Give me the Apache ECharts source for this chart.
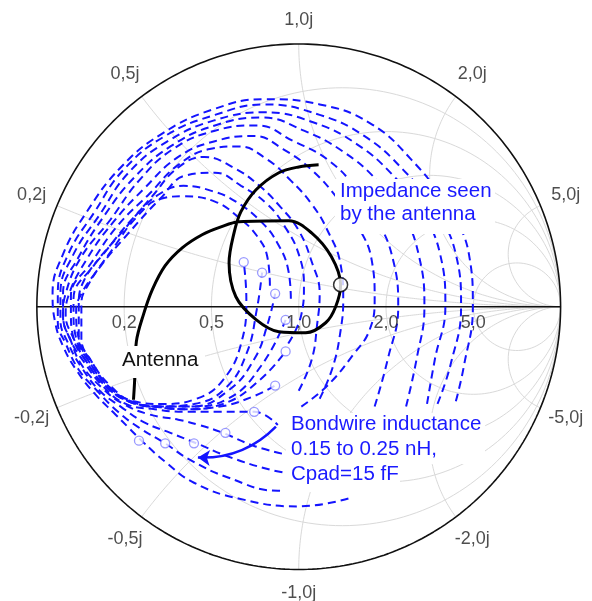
<!DOCTYPE html>
<html><head><meta charset="utf-8">
<script src="https://cdn.jsdelivr.net/npm/echarts@6/dist/echarts.min.js"></script>
<style>html,body{margin:0;padding:0;background:#fff}#c{width:592px;height:601px}</style>
</head><body><div id="c"></div>
<script>
// ---- Smith chart ticks ----
const resistanceTicks = [0.2, 0.5, 1, 2, 5];
const resistanceLabels = ['0,2', '0,5', '1,0', '2,0', '5,0'];
const reactanceTicks = [0.2, 0.5, 1, 2, 5, -0.2, -0.5, -1, -2, -5];
const reactanceLabels = ['0,2j', '0,5j', '1,0j', '2,0j', '5,0j', '-0,2j', '-0,5j', '-1,0j', '-2,0j', '-5,0j'];

// ---- Antenna impedance (reflection coefficient [re, im]) ----
const antenna = [[-0.631,-0.354],[-0.627,-0.289],[-0.620,-0.133],[-0.593,-0.030],[-0.559,0.065],[-0.510,0.156],[-0.445,0.224],[-0.369,0.274],[-0.297,0.304],[-0.228,0.323],[-0.038,0.327],[0.049,0.281],[0.125,0.190],[0.160,0.084],[0.141,0],[0.103,-0.061],[0.027,-0.099],[-0.076,-0.095],[-0.163,-0.049],[-0.240,0.038],[-0.266,0.167],[-0.247,0.281],[-0.221,0.361],[-0.163,0.445],[-0.076,0.510],[0,0.532],[0.076,0.540]];
const antennaMarker = [[0.160, 0.084]];

// ---- Impedance seen by the antenna, bondwire 0.15 ... 0.25 nH, Cpad = 15 fF ----
const seen01 = [[-0.11,0.08],[-0.12,0.19],[-0.16,0.27],[-0.23,0.34],[-0.32,0.40],[-0.44,0.42],[-0.53,0.41],[-0.62,0.34],[-0.71,0.22],[-0.80,0.09],[-0.83,0.01],[-0.83,-0.12],[-0.79,-0.21],[-0.72,-0.30],[-0.63,-0.36],[-0.52,-0.37],[-0.39,-0.35],[-0.29,-0.28],[-0.22,-0.14],[-0.20,0.03],[-0.21,0.17]];
const seen02 = [[-0.03,0.03],[-0.04,0.14],[-0.08,0.24],[-0.14,0.32],[-0.24,0.40],[-0.33,0.44],[-0.44,0.46],[-0.53,0.43],[-0.63,0.34],[-0.73,0.22],[-0.82,0.10],[-0.84,0.00],[-0.84,-0.12],[-0.79,-0.21],[-0.73,-0.30],[-0.64,-0.36],[-0.53,-0.38],[-0.40,-0.37],[-0.28,-0.31],[-0.20,-0.18],[-0.16,-0.01],[-0.14,0.13]];
const seen03 = [[-0.04,-0.14],[0.01,-0.03],[0.02,0.08],[0,0.20],[-0.05,0.30],[-0.12,0.39],[-0.22,0.46],[-0.32,0.51],[-0.43,0.50],[-0.53,0.41],[-0.65,0.28],[-0.76,0.15],[-0.84,0.03],[-0.85,-0.02],[-0.84,-0.12],[-0.80,-0.21],[-0.73,-0.30],[-0.64,-0.36],[-0.54,-0.38],[-0.41,-0.38],[-0.27,-0.32],[-0.17,-0.20],[-0.12,-0.07],[-0.09,0.05]];
const seen04 = [[0,-0.32],[0.05,-0.20],[0.07,-0.07],[0.08,0.05],[0.05,0.17],[0,0.29],[-0.07,0.38],[-0.15,0.46],[-0.25,0.53],[-0.36,0.57],[-0.46,0.53],[-0.56,0.42],[-0.67,0.29],[-0.78,0.16],[-0.86,0.03],[-0.86,-0.02],[-0.85,-0.12],[-0.80,-0.21],[-0.73,-0.30],[-0.65,-0.36],[-0.54,-0.38],[-0.42,-0.38],[-0.27,-0.35],[-0.14,-0.22],[-0.05,-0.05]];
const seen05 = [[0.08,-0.35],[0.13,-0.23],[0.16,-0.09],[0.17,0.03],[0.16,0.16],[0.11,0.29],[0.05,0.39],[-0.03,0.48],[-0.12,0.56],[-0.23,0.61],[-0.34,0.60],[-0.46,0.54],[-0.57,0.43],[-0.69,0.31],[-0.79,0.17],[-0.87,0.04],[-0.87,-0.02],[-0.86,-0.12],[-0.81,-0.21],[-0.74,-0.30],[-0.65,-0.36],[-0.55,-0.38],[-0.43,-0.39],[-0.29,-0.37],[-0.15,-0.28],[-0.05,-0.17]];
const seen06 = [[0.01,-0.38],[0.11,-0.30],[0.21,-0.18],[0.27,-0.09],[0.29,0.03],[0.28,0.17],[0.23,0.30],[0.15,0.41],[0.05,0.52],[-0.06,0.60],[-0.17,0.65],[-0.32,0.63],[-0.46,0.57],[-0.59,0.45],[-0.71,0.32],[-0.81,0.18],[-0.88,0.04],[-0.89,-0.03],[-0.86,-0.12],[-0.81,-0.21],[-0.74,-0.30],[-0.65,-0.36],[-0.55,-0.38],[-0.44,-0.39],[-0.30,-0.38],[-0.17,-0.34],[-0.09,-0.30]];
const seen07 = [[0.29,-0.38],[0.34,-0.20],[0.38,0],[0.36,0.18],[0.30,0.33],[0.22,0.45],[0.11,0.56],[-0.02,0.63],[-0.16,0.69],[-0.32,0.67],[-0.48,0.60],[-0.61,0.48],[-0.72,0.33],[-0.83,0.19],[-0.89,0.05],[-0.90,-0.03],[-0.87,-0.13],[-0.82,-0.21],[-0.75,-0.30],[-0.66,-0.37],[-0.55,-0.39],[-0.44,-0.40],[-0.32,-0.40],[-0.17,-0.40],[-0.08,-0.45]];
const seen08 = [[0.41,-0.38],[0.45,-0.20],[0.48,0],[0.46,0.19],[0.40,0.35],[0.30,0.48],[0.17,0.59],[0.02,0.67],[-0.14,0.72],[-0.32,0.69],[-0.49,0.61],[-0.63,0.49],[-0.74,0.35],[-0.84,0.19],[-0.90,0.05],[-0.90,-0.04],[-0.87,-0.13],[-0.83,-0.22],[-0.75,-0.31],[-0.67,-0.37],[-0.57,-0.41],[-0.46,-0.43],[-0.38,-0.45],[-0.29,-0.48],[-0.17,-0.53],[-0.06,-0.56]];
const seen09 = [[0.49,-0.37],[0.52,-0.20],[0.56,0],[0.54,0.20],[0.47,0.36],[0.36,0.50],[0.22,0.62],[0.06,0.70],[-0.13,0.74],[-0.32,0.71],[-0.50,0.63],[-0.65,0.51],[-0.76,0.35],[-0.86,0.20],[-0.91,0.05],[-0.91,-0.05],[-0.88,-0.14],[-0.83,-0.23],[-0.76,-0.32],[-0.68,-0.38],[-0.59,-0.44],[-0.49,-0.48],[-0.39,-0.52],[-0.27,-0.57],[-0.11,-0.62],[0,-0.64]];
const seen10 = [[0.53,-0.37],[0.58,-0.22],[0.62,0],[0.60,0.20],[0.52,0.37],[0.40,0.52],[0.25,0.65],[0.08,0.73],[-0.13,0.77],[-0.32,0.73],[-0.51,0.65],[-0.67,0.52],[-0.78,0.36],[-0.88,0.20],[-0.92,0.05],[-0.92,-0.06],[-0.89,-0.14],[-0.84,-0.24],[-0.77,-0.32],[-0.69,-0.40],[-0.61,-0.46],[-0.51,-0.52],[-0.42,-0.58],[-0.27,-0.65],[-0.08,-0.70],[0.08,-0.70]];
const seen11 = [[0.60,-0.36],[0.63,-0.23],[0.665,0],[0.65,0.20],[0.56,0.39],[0.43,0.56],[0.27,0.70],[0.08,0.77],[-0.13,0.79],[-0.33,0.75],[-0.52,0.66],[-0.68,0.53],[-0.81,0.36],[-0.90,0.20],[-0.94,0.05],[-0.93,-0.06],[-0.90,-0.15],[-0.85,-0.24],[-0.78,-0.33],[-0.70,-0.41],[-0.65,-0.46],[-0.60,-0.51],[-0.51,-0.59],[-0.40,-0.67],[-0.23,-0.73],[0,-0.76],[0.19,-0.73]];
const seenCurves = [seen01, seen02, seen03, seen04, seen05, seen06, seen07, seen08, seen09, seen10, seen11];
const seenMarkers = [[-0.21,0.17],[-0.14,0.13],[-0.09,0.05],[-0.05,-0.05],[-0.05,-0.17],[-0.09,-0.30],[-0.17,-0.40],[-0.28,-0.48],[-0.40,-0.52],[-0.51,-0.52],[-0.61,-0.51]];
const bondwireArrow = [[-0.087,-0.456],[-0.385,-0.574]];

// ---- helpers for the Smith grid (scaffolding) ----
const EXT = 1.12; // axis extent so that the outer labels fit
function zToGamma(r, x) { const den = (r + 1) * (r + 1) + x * x; return [(r * r + x * x - 1) / den, 2 * x / den]; }
const series = [];
const gridStyle = { color: '#d9d9d9', width: 1 };
resistanceTicks.forEach(r => {
  const c = r / (1 + r), rad = 1 / (1 + r), pts = [];
  for (let i = 0; i <= 200; i++) { const a = i / 200 * 2 * Math.PI; pts.push([c + rad * Math.cos(a), rad * Math.sin(a)]); }
  series.push({ type: 'line', data: pts, symbol: 'none', lineStyle: gridStyle, silent: true, z: 1 });
});
reactanceTicks.forEach(x => {
  const pts = [];
  for (let i = 0; i <= 240; i++) { const r = Math.tan(i / 240 * Math.PI / 2 * 0.999); pts.push(zToGamma(r, x)); }
  series.push({ type: 'line', data: pts, symbol: 'none', lineStyle: gridStyle, silent: true, z: 1 });
});
const outer = [];
for (let i = 0; i <= 360; i++) { const a = i / 360 * 2 * Math.PI; outer.push([Math.cos(a), Math.sin(a)]); }
series.push({ type: 'line', data: outer, symbol: 'none', lineStyle: { color: '#111', width: 1.6 }, silent: true, z: 2 });
series.push({ type: 'line', data: [[-1, 0], [1, 0]], symbol: 'none', lineStyle: { color: '#111', width: 1.4 }, silent: true, z: 2 });

// tick labels
const FONT = '"Liberation Sans", Arial, sans-serif';
series.push({
  type: 'scatter', symbolSize: 1, itemStyle: { color: 'rgba(0,0,0,0)' }, z: 6, silent: true,
  data: resistanceTicks.map((r, i) => ({ value: [(r - 1) / (r + 1), 0], name: resistanceLabels[i] })),
  label: { show: true, position: 'bottom', distance: 7, formatter: p => p.name, color: '#222', fontSize: 18, fontFamily: FONT }
});
series.push({
  type: 'scatter', symbolSize: 1, itemStyle: { color: 'rgba(0,0,0,0)' }, z: 6, silent: true,
  data: reactanceTicks.map((x, i) => { const a = Math.atan2(2 * x, x * x - 1); const k = Math.abs(x) === 1 ? 1.09 : 1.105; return { value: [k * Math.cos(a), k * Math.sin(a)], name: reactanceLabels[i] }; }),
  label: { show: true, position: 'inside', formatter: p => p.name, color: '#222', fontSize: 18, fontFamily: FONT }
});

// impedance curves
seenCurves.forEach(c => series.push({
  type: 'line', data: c, symbol: 'none', smooth: 0.45, z: 3, silent: true,
  lineStyle: { color: '#1414ff', width: 2, type: [8, 5] }
}));
series.push({
  type: 'scatter', data: seenMarkers, symbol: 'circle', symbolSize: 9, z: 5, silent: true,
  itemStyle: { color: '#fff', borderColor: '#7f7fff', borderWidth: 1.3 }
});
// antenna
series.push({ type: 'line', data: antenna, symbol: 'none', smooth: 0.35, z: 4, silent: true, lineStyle: { color: '#000', width: 3 } });
series.push({ type: 'scatter', data: antennaMarker, symbolSize: 14, z: 7, silent: true, itemStyle: { color: '#fff', borderColor: '#000', borderWidth: 1.5 } });
// arrow
series.push({
  type: 'lines', coordinateSystem: 'cartesian2d', z: 8, silent: true,
  symbol: ['none', 'arrow'], symbolSize: 12,
  lineStyle: { color: '#1414ff', width: 2.5, curveness: 0.22, opacity: 1 },
  data: [{ coords: bondwireArrow }]
});

const chart = echarts.init(document.getElementById('c'));
const CX = 300, CY = 307, RPX = 263;
chart.setOption({
  animation: false,
  backgroundColor: '#fff',
  grid: { left: CX - EXT * RPX, top: CY - EXT * RPX, width: 2 * EXT * RPX, height: 2 * EXT * RPX },
  xAxis: { type: 'value', min: -EXT, max: EXT, show: false },
  yAxis: { type: 'value', min: -EXT, max: EXT, show: false },
  series: series,
  graphic: [
    { type: 'rect', z: 100, shape: { x: 335, y: 179, width: 160, height: 55 }, style: { fill: '#fff' } },
    { type: 'text', z: 101, x: 340, y: 180, style: { text: 'Impedance seen\nby the antenna', font: '20.5px ' + FONT, fill: '#1a1aff', lineHeight: 23, verticalAlign: 'top', textVerticalAlign: 'top' } },
    { type: 'rect', z: 100, shape: { x: 286, y: 413, width: 199, height: 51 }, style: { fill: '#fff' } },
    { type: 'rect', z: 100, shape: { x: 284, y: 462, width: 116, height: 30 }, style: { fill: '#fff' } },
    { type: 'text', z: 101, x: 291, y: 412, style: { text: 'Bondwire inductance\n0.15 to 0.25 nH,\nCpad=15 fF', font: '20.5px ' + FONT, fill: '#1a1aff', lineHeight: 25, verticalAlign: 'top', textVerticalAlign: 'top' } },
    { type: 'rect', z: 100, shape: { x: 119, y: 346, width: 86, height: 32 }, style: { fill: '#fff' } },
    { type: 'text', z: 101, x: 122, y: 348, style: { text: 'Antenna', font: '20.5px ' + FONT, fill: '#111', lineHeight: 24, verticalAlign: 'top', textVerticalAlign: 'top' } }
  ]
});
</script>
</body></html>
